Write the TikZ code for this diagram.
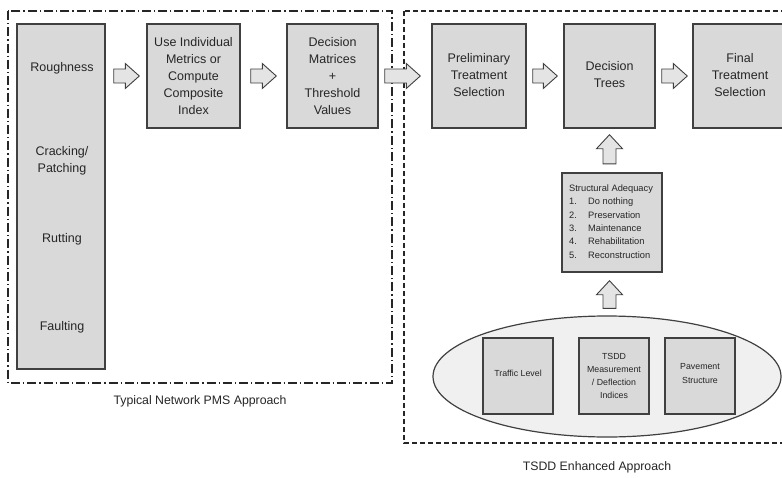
\documentclass[tikz,border=0pt]{standalone}
\usepackage{fontspec}
\setmainfont{Liberation Sans}
\usetikzlibrary{calc,shapes.geometric}
\definecolor{boxfill}{HTML}{D9D9D9}
\definecolor{boxline}{HTML}{404040}
\definecolor{txt}{HTML}{262626}
\definecolor{ellfill}{HTML}{F0F0F0}
\newcommand{\harrow}[2]{%
  \path[blockarrow] let \p1=(#1), \p2=(#2) in
    (\x1,{\y1-7pt}) -- ({\x2-14pt},{\y1-7pt}) -- ({\x2-14pt},{\y1-12.5pt}) -- (\x2,\y1)
    -- ({\x2-14pt},{\y1+12.5pt}) -- ({\x2-14pt},{\y1+7pt}) -- (\x1,{\y1+7pt}) -- cycle;}
\newcommand{\varrow}[2]{%
  \path[blockarrow] let \p1=(#1), \p2=(#2) in
    ({\x1-6.5pt},\y1) -- ({\x1-6.5pt},{\y2-14pt}) -- ({\x1-13pt},{\y2-14pt}) -- (\x1,\y2)
    -- ({\x1+13pt},{\y2-14pt}) -- ({\x1+6.5pt},{\y2-14pt}) -- ({\x1+6.5pt},\y1) -- cycle;}
\begin{document}
\begin{tikzpicture}[x=1pt,y=-1pt,
  box/.style={draw=boxline,fill=boxfill,line width=1.4pt,inner sep=0pt},
  mtext/.style={text=txt,align=center,font=\fontsize{12.5}{17}\selectfont,inner sep=0pt},
  stext/.style={text=txt,align=left,font=\fontsize{9.3}{13.3}\selectfont,inner sep=0pt},
  itext/.style={text=txt,align=center,font=\fontsize{8.8}{13.3}\selectfont,inner sep=0pt},
  lbl/.style={text=txt,font=\fontsize{12.3}{15}\selectfont,inner sep=0pt},
  blockarrow/.style={draw=boxline,fill=boxfill!70!white,line width=0.9pt,line join=miter},
  dashdot/.style={draw=black!85,line width=1.3pt,dash pattern=on 9pt off 3pt on 1.3pt off 3pt},
  dashbox/.style={draw=black!85,line width=1.2pt,dash pattern=on 5pt off 3pt}]
\useasboundingbox (0,0) rectangle (782,477);
\clip (0,0) rectangle (782,477);
\fill[white] (0,0) rectangle (782,477);
% group frames
\draw[dashdot] (8,11) rectangle (392,383);
\draw[dashbox] (404,11) rectangle (795,443);
% left column
\node[box,minimum width=88,minimum height=345] (L) at (61,196.5) {};
\node[mtext] (rough) at (62,68) {Roughness};
\node[mtext] (crack) at (62,161) {Cracking/\\Patching};
\node[mtext] (rut) at (62,239) {Rutting};
\node[mtext] (fault) at (62,327) {Faulting};
% top row
\node[box,minimum width=93,minimum height=104] (B2) at (193.5,76) {};
\node[mtext] (B2t) at (193.5,76.5) {Use Individual\\Metrics or\\Compute\\Composite\\Index};
\node[box,minimum width=91,minimum height=104] (B3) at (332.5,76) {};
\node[mtext] (B3t) at (332.5,76.5) {Decision\\Matrices\\+\\Threshold\\Values};
\node[box,minimum width=94,minimum height=104] (P) at (479,76) {};
\node[mtext] (Pt) at (479,75) {Preliminary\\Treatment\\Selection};
\node[box,minimum width=91,minimum height=104] (DT) at (609.5,76) {};
\node[mtext] (DTt) at (609.5,74.5) {Decision\\Trees};
\node[box,minimum width=94,minimum height=104] (F) at (740,76) {};
\node[mtext] (Ft) at (740,75) {Final\\Treatment\\Selection};
% structural adequacy
\node[box,minimum width=100,minimum height=99] (S) at (612,222.5) {};
\node[stext,anchor=west] (St) at (569,221.5) {Structural Adequacy\\
\makebox[19pt][l]{1.}Do nothing\\
\makebox[19pt][l]{2.}Preservation\\
\makebox[19pt][l]{3.}Maintenance\\
\makebox[19pt][l]{4.}Rehabilitation\\
\makebox[19pt][l]{5.}Reconstruction};
% ellipse with inputs
\node[ellipse,draw=boxline,fill=ellfill,line width=1.2pt,minimum width=348,minimum height=121,inner sep=0pt] (E) at (607,376.5) {};
\node[box,minimum width=70,minimum height=76] (T) at (518,376) {};
\node[itext] (Tt) at (518,373) {Traffic Level};
\node[box,minimum width=70,minimum height=76] (M) at (614,376) {};
\node[itext] (Mt) at (614,376) {TSDD\\Measurement\\/ Deflection\\Indices};
\node[box,minimum width=70,minimum height=76] (V) at (700,376) {};
\node[itext] (Vt) at (700,373.5) {Pavement\\Structure};
% block arrows
\harrow{$(L.east|-B2.west)+(8,0)$}{$(B2.west)+(-7,0)$}
\harrow{$(B2.east)+(10,0)$}{$(B3.west)+(-10,0)$}
\harrow{$(B3.east)+(6,0)$}{$(P.west)+(-11,0)$}
\harrow{$(P.east)+(6,0)$}{$(DT.west)+(-6,0)$}
\harrow{$(DT.east)+(6,0)$}{$(F.west)+(-5,0)$}
\varrow{$(S.north)+(-2.5,-8.5)$}{$(DT.south)+(0,6)$}
\varrow{$(E.north)+(2.5,-7)$}{$(S.south)+(0,8)$}
% captions
\node[lbl] (cap1) at (200,401) {Typical Network PMS Approach};
\node[lbl] (cap2) at (597,467) {TSDD Enhanced Approach};
\end{tikzpicture}
\end{document}
